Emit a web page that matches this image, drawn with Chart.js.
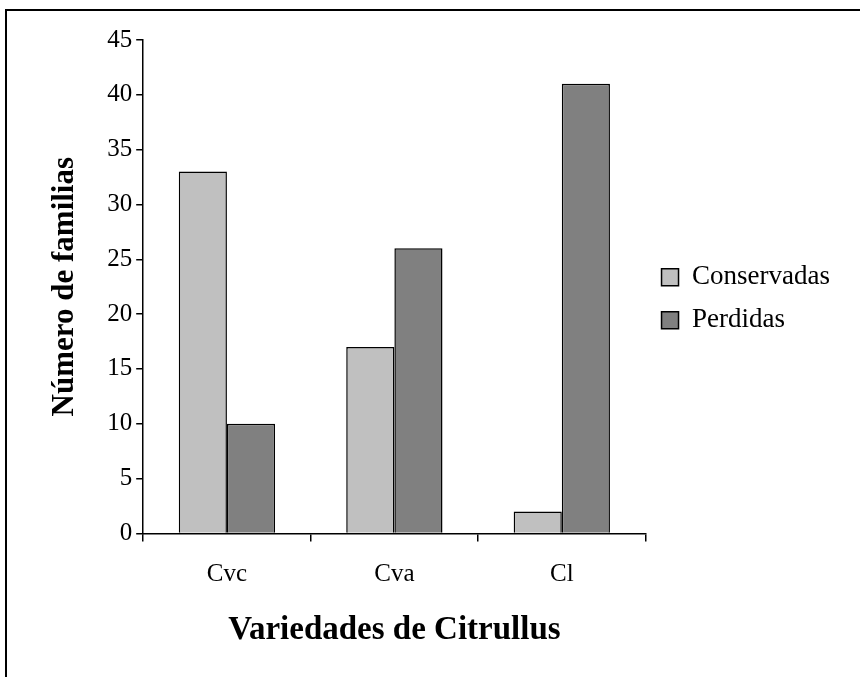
<!DOCTYPE html>
<html>
<head>
<meta charset="utf-8">
<script src="https://cdn.jsdelivr.net/npm/chart.js"></script>
<style>
  body { margin: 0; background: #fff; }
  #wrap { position: relative; width: 860px; height: 677px; overflow: hidden; }
  #frame { position: absolute; left: 5px; top: 9px; width: 900px; height: 700px; border-top: 2px solid #000; border-left: 2px solid #000; }
  canvas { position: absolute; left: 0; top: 0; }
</style>
</head>
<body>
<div id="wrap">
  <div id="frame"></div>
  <canvas id="myChart" width="860" height="677"></canvas>
</div>
<script>
const labels = ["Cvc", "Cva", "Cl"];
const conservadas = [33, 17, 2];
const perdidas = [10, 26, 41];

const serif = "'Liberation Serif', 'Times New Roman', serif";

// move the legend so it sits next to the middle of the plot, not the whole canvas
const legendShift = {
  id: "legendShift",
  afterLayout(chart) {
    const lg = chart.legend;
    const h = lg.bottom - lg.top;
    const mid = (chart.chartArea.top + chart.chartArea.bottom) / 2 + 12;
    lg.top = mid - h / 2;
    lg.bottom = mid + h / 2;
  }
};

const data = {
  labels: labels,
  datasets: [
    {
      label: "Conservadas",
      data: conservadas,
      backgroundColor: "#c0c0c0",
      borderColor: "#000",
      borderWidth: 1.5,
    },
    {
      label: "Perdidas",
      data: perdidas,
      backgroundColor: "#808080",
      borderColor: "#000",
      borderWidth: 1.5,
    },
  ],
};

const config = {
  type: "bar",
  data: data,
  plugins: [legendShift],
  options: {
    responsive: false,
    animation: false,
    layout: {
      padding: { left: 46, right: 20, top: 40, bottom: 27 }
    },
    datasets: {
      bar: { categoryPercentage: 0.575, barPercentage: 1.0 }
    },
    plugins: {
      legend: {
        position: "right",
        labels: {
          color: "#000",
          font: { family: serif, size: 27 },
          boxWidth: 17,
          boxHeight: 17,
          padding: 16
        }
      },
      tooltip: { enabled: false }
    },
    scales: {
      y: {
        min: 0,
        max: 45,
        ticks: { stepSize: 5, color: "#000", font: { family: serif, size: 25 }, padding: 4 },
        grid: { drawOnChartArea: false, color: "#000", tickLength: 7, lineWidth: 1.5 },
        border: { color: "#000", width: 1.5 },
        title: {
          display: true,
          text: "Número de familias",
          color: "#000",
          font: { family: serif, size: 31, weight: "bold" },
          padding: { top: 0, bottom: 20 }
        }
      },
      x: {
        ticks: { color: "#000", font: { family: serif, size: 25 }, padding: 18 },
        grid: { drawOnChartArea: false, color: "#000", tickLength: 8, lineWidth: 1.5 },
        border: { color: "#000", width: 1.5 },
        title: {
          display: true,
          text: "Variedades de Citrullus",
          color: "#000",
          font: { family: serif, size: 33, weight: "bold" },
          padding: { top: 3, bottom: 0 }
        }
      }
    },
  },
};

const myChart = new Chart(document.getElementById("myChart"), config);
</script>
</body>
</html>
